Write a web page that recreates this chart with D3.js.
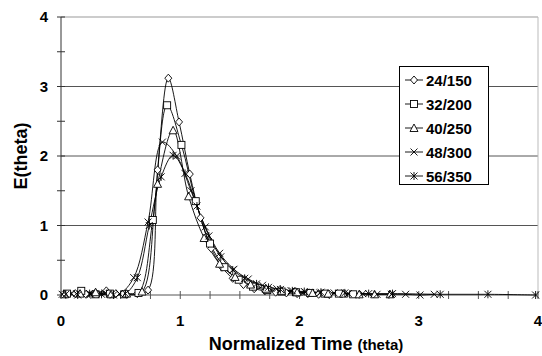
<!DOCTYPE html>
<html>
<head>
<meta charset="utf-8">
<script src="https://cdn.jsdelivr.net/npm/d3@7"></script>
<style>
  body { margin: 0; background: #fff; }
  svg text { font-family: "Liberation Sans", Arial, sans-serif; font-weight: bold; fill: #000; }
</style>
</head>
<body>
<svg id="chart" width="542" height="356"></svg>
<script>
// series data: theta and E(theta)
const theta24 = [0.04,0.12,0.21,0.29,0.38,0.46,0.55,0.64,0.73,0.81,0.90,0.99,1.08,1.17,1.26,1.35,1.44,1.53,1.62,1.71,1.80,1.89,1.98,2.07,2.16,2.25];
const e24     = [0.01,0.02,0.01,0.03,0.06,0.02,0.01,0.02,0.07,1.80,3.12,2.49,1.74,1.11,0.67,0.40,0.24,0.15,0.09,0.06,0.04,0.03,0.02,0.02,0.01,0.01];

const theta32 = [0.05,0.17,0.29,0.41,0.53,0.65,0.77,0.89,1.01,1.13,1.25,1.37,1.49,1.61,1.73,1.85,1.97,2.09,2.21,2.33,2.45];
const e32     = [0.02,0.06,0.01,0.02,0.01,0.03,1.08,2.73,2.16,1.35,0.74,0.40,0.22,0.12,0.07,0.05,0.04,0.03,0.02,0.02,0.01];

const theta40 = [0.03,0.16,0.29,0.42,0.55,0.68,0.81,0.94,1.07,1.20,1.33,1.46,1.59,1.72,1.85,1.98,2.11,2.24,2.37,2.50,2.63,2.76];
const e40     = [0.01,0.02,0.04,0.01,0.02,0.05,1.60,2.37,1.42,0.82,0.45,0.26,0.15,0.09,0.06,0.04,0.03,0.02,0.02,0.01,0.01,0.01];

const theta48 = [0.01,0.13,0.25,0.37,0.49,0.61,0.73,0.85,0.97,1.09,1.21,1.33,1.45,1.57,1.69,1.81,1.93,2.05,2.17,2.29,2.41,2.53,2.65,2.77,2.89,3.01,3.13];
const e48     = [0.01,0.02,0.01,0.03,0.02,0.25,1.05,2.20,2.00,1.50,0.98,0.60,0.37,0.23,0.14,0.09,0.06,0.04,0.03,0.03,0.02,0.02,0.01,0.01,0.01,0.00,0.01];

const theta56 = [0.04,0.14,0.24,0.34,0.44,0.54,0.64,0.74,0.84,0.94,1.04,1.14,1.24,1.34,1.44,1.54,1.64,1.74,1.84,1.94,2.04,2.18,2.38,2.58,2.78,3.18,3.58,3.98];
const e56     = [0.01,0.00,0.02,0.01,0.00,0.02,0.25,1.00,1.70,2.01,1.75,1.28,0.85,0.55,0.36,0.24,0.16,0.11,0.08,0.06,0.05,0.04,0.03,0.02,0.02,0.01,0.01,0.00];

const seriesNames = ["24/150","32/200","40/250","48/300","56/350"];
const markerTypes = ["diamond","square","triangle","cross","star"];

const yTicks = [0,1,2,3,4];
const xTicks = [0,1,2,3,4];

const series = [
  {name: seriesNames[0], marker: markerTypes[0], x: theta24, y: e24},
  {name: seriesNames[1], marker: markerTypes[1], x: theta32, y: e32},
  {name: seriesNames[2], marker: markerTypes[2], x: theta40, y: e40},
  {name: seriesNames[3], marker: markerTypes[3], x: theta48, y: e48},
  {name: seriesNames[4], marker: markerTypes[4], x: theta56, y: e56}
];

// layout
const svg = d3.select("#chart");
const plotLeft = 61, plotRight = 538, plotTop = 17, plotBottom = 295;

const x = d3.scaleLinear().domain([0,4]).range([plotLeft, plotRight]);
const y = d3.scaleLinear().domain([0,4]).range([plotBottom, plotTop]);

// gridlines
svg.append("g")
  .selectAll("line")
  .data(yTicks.filter(d => d > 0))
  .join("line")
  .attr("x1", plotLeft).attr("x2", plotRight)
  .attr("y1", d => y(d)).attr("y2", d => y(d))
  .attr("stroke", d => d === 4 ? "#999" : "#555")
  .attr("stroke-width", 1);

// right frame
svg.append("line")
  .attr("x1", plotRight).attr("x2", plotRight)
  .attr("y1", plotTop).attr("y2", plotBottom)
  .attr("stroke", "#bbb");

// y axis with crossing ticks
const yAxis = svg.append("g").attr("transform", `translate(${plotLeft},0)`);
yAxis.append("line")
  .attr("y1", plotTop).attr("y2", plotBottom)
  .attr("stroke", "#333");
yAxis.selectAll("line.tick")
  .data(d3.range(0, 4.01, 0.5))
  .join("line")
  .attr("class", "tick")
  .attr("x1", -4).attr("x2", 4)
  .attr("y1", d => y(d)).attr("y2", d => y(d))
  .attr("stroke", "#333");
yAxis.selectAll("text")
  .data(yTicks)
  .join("text")
  .attr("x", -13)
  .attr("y", d => y(d) + 5)
  .attr("text-anchor", "end")
  .style("font-size", "15px")
  .text(d => d);

// x axis with crossing ticks
const xAxis = svg.append("g").attr("transform", `translate(0,${plotBottom})`);
xAxis.append("line")
  .attr("x1", plotLeft).attr("x2", plotRight)
  .attr("stroke", "#555");
xAxis.selectAll("line.tick")
  .data(d3.range(0, 4.01, 0.25))
  .join("line")
  .attr("class", "tick")
  .attr("x1", d => x(d)).attr("x2", d => x(d))
  .attr("y1", -4).attr("y2", 4)
  .attr("stroke", "#555");
xAxis.selectAll("text")
  .data(xTicks)
  .join("text")
  .attr("x", d => x(d))
  .attr("y", 31)
  .attr("text-anchor", "middle")
  .style("font-size", "15px")
  .text(d => d);

// axis titles
svg.append("text")
  .attr("transform", `translate(27,${(plotTop + plotBottom) / 2}) rotate(-90)`)
  .attr("text-anchor", "middle")
  .style("font-size", "18px")
  .text("E(theta)");

const xt = svg.append("text")
  .attr("x", 306)
  .attr("y", 350)
  .attr("text-anchor", "middle")
  .style("font-size", "18px");
xt.append("tspan").text("Normalized Time ");
xt.append("tspan").style("font-size", "15px").text("(theta)");

// markers
function drawMarker(g, type, cx, cy) {
  const s = 3.5;
  if (type === "diamond") {
    g.append("path").attr("d", `M${cx},${cy-s-0.5}L${cx+s},${cy}L${cx},${cy+s+0.5}L${cx-s},${cy}Z`)
      .attr("fill", "#fff").attr("stroke", "#000").attr("stroke-width", 0.9);
  } else if (type === "square") {
    g.append("rect").attr("x", cx - s).attr("y", cy - s).attr("width", 2*s).attr("height", 2*s)
      .attr("fill", "#fff").attr("stroke", "#000").attr("stroke-width", 0.9);
  } else if (type === "triangle") {
    g.append("path").attr("d", `M${cx},${cy-s-0.5}L${cx+s+0.5},${cy+s}L${cx-s-0.5},${cy+s}Z`)
      .attr("fill", "#fff").attr("stroke", "#000").attr("stroke-width", 0.9);
  } else if (type === "cross") {
    g.append("path").attr("d", `M${cx-s},${cy-s}L${cx+s},${cy+s}M${cx-s},${cy+s}L${cx+s},${cy-s}`)
      .attr("stroke", "#000").attr("stroke-width", 0.9);
  } else {
    g.append("path").attr("d", `M${cx-s},${cy-s}L${cx+s},${cy+s}M${cx-s},${cy+s}L${cx+s},${cy-s}M${cx},${cy-s-0.5}L${cx},${cy+s+0.5}`)
      .attr("stroke", "#000").attr("stroke-width", 0.9);
  }
}

// smoothed series lines
const line = d3.line()
  .x(d => x(d[0]))
  .y(d => y(d[1]))
  .curve(d3.curveCatmullRom.alpha(0.5));

series.forEach(s => {
  const pts = s.x.map((t, i) => [t, s.y[i]]);
  svg.append("path")
    .datum(pts)
    .attr("d", line)
    .attr("fill", "none")
    .attr("stroke", "#000")
    .attr("stroke-width", 0.9);
});

series.forEach(s => {
  const g = svg.append("g");
  s.x.forEach((t, i) => drawMarker(g, s.marker, x(t), y(s.y[i])));
});

// legend
const legend = svg.append("g");
legend.append("rect")
  .attr("x", 399.5).attr("y", 66.5)
  .attr("width", 89).attr("height", 118)
  .attr("fill", "#fff").attr("stroke", "#000");

series.forEach((s, i) => {
  const ly = 80 + i * 24;
  legend.append("line")
    .attr("x1", 405).attr("x2", 423)
    .attr("y1", ly).attr("y2", ly)
    .attr("stroke", "#000").attr("stroke-width", 0.9);
  drawMarker(legend, s.marker, 414, ly);
  legend.append("text")
    .attr("x", 426)
    .attr("y", ly + 5.5)
    .style("font-size", "15px")
    .text(s.name);
});
</script>
</body>
</html>
